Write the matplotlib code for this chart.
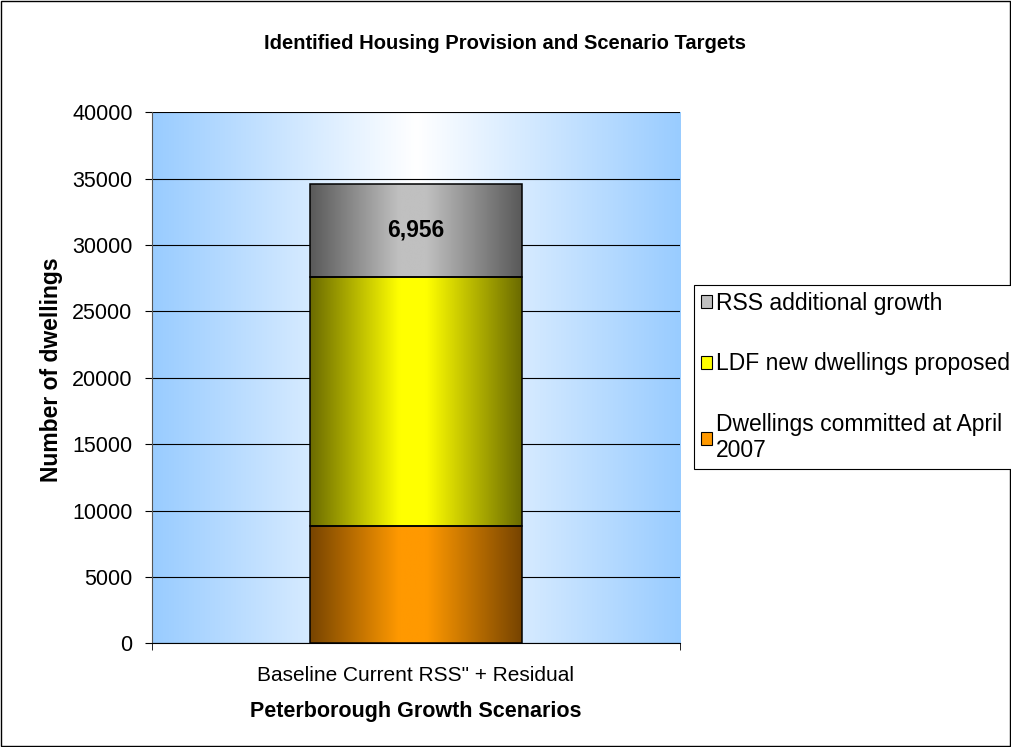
import numpy as np
import matplotlib.pyplot as plt
from matplotlib.colors import LinearSegmentedColormap
from matplotlib.patches import Rectangle

plt.rcParams['font.family'] = ['Liberation Sans', 'DejaVu Sans']

# stacked housing figures, bottom to top
categories = ['Baseline Current RSS" + Residual']
series_names = ['Dwellings committed at April\n2007', 'LDF new dwellings proposed', 'RSS additional growth']
committed = [8830]
ldf_new = [18790]
rss_growth = [6956]
y_ticks = [0, 5000, 10000, 15000, 20000, 25000, 30000, 35000, 40000]

# (edge shade, centre shade) for each segment
shades = [('#774400', '#FF9900'), ('#6B6B00', '#FFFF00'), ('#595959', '#C0C0C0')]

fig = plt.figure(figsize=(10.11, 7.47), dpi=100)
ax = fig.add_axes([0.1503, 0.1388, 0.5223, 0.7109])

x = np.arange(len(categories))

# blue -> white -> blue background across the plot area
bg = LinearSegmentedColormap.from_list('bg', ['#99CCFF', '#FFFFFF', '#99CCFF'])
ax.imshow(np.linspace(0, 1, 256).reshape(1, -1), cmap=bg, aspect='auto',
          extent=(-0.5, 0.5, 0, 40000), zorder=0, interpolation='bicubic')

ax.set_yticks(y_ticks)
ax.yaxis.grid(True, color='black', linewidth=0.8, zorder=1)
ax.set_axisbelow(True)

width = 0.40
bottoms = np.zeros(len(categories))
handles = []
for vals, name, (dark, light) in zip([committed, ldf_new, rss_growth], series_names, shades):
    bars = ax.bar(x, vals, width, bottom=bottoms, facecolor='none', edgecolor='black',
                  linewidth=1.1, zorder=3)
    cmap = LinearSegmentedColormap.from_list(
        'seg', [(0, dark), (0.42, light), (0.55, light), (1, dark)])
    for b in bars:
        x0, y0 = b.get_x(), b.get_y()
        im = ax.imshow(np.linspace(0, 1, 256).reshape(1, -1), cmap=cmap, aspect='auto',
                       extent=(x0, x0 + b.get_width(), y0, y0 + b.get_height()),
                       zorder=2, interpolation='bicubic')
        im.set_clip_path(b)
    handles.append(Rectangle((0, 0), 1, 1, facecolor=light, edgecolor='black', linewidth=0.8))
    bottoms = bottoms + np.array(vals)

# reset limits after the images
ax.set_xlim(-0.5, 0.5)
ax.set_ylim(0, 40000)

# value label on the top segment
for xi, base, v in zip(x, np.array(committed) + np.array(ldf_new), rss_growth):
    ax.text(xi, base + v / 2, f'{v:,}', ha='center', va='center',
            fontsize=16.5, fontweight='bold', zorder=4)

ax.set_xticks(x)
ax.set_xticklabels(categories, fontsize=15)
ax.tick_params(axis='x', length=0, pad=16)
ax.set_xticks([-0.5, 0.5], minor=True)
ax.tick_params(axis='x', which='minor', length=5, direction='out')
ax.tick_params(axis='y', labelsize=15.5, length=5, direction='out', pad=9)

for s in ['top', 'right']:
    ax.spines[s].set_visible(False)
ax.spines['left'].set_color('#555555')
ax.spines['bottom'].set_color('black')

ax.set_ylabel('Number of dwellings', fontsize=16.5, fontweight='bold')
ax.yaxis.set_label_coords(-0.168, 0.515)
ax.set_xlabel('Peterborough Growth Scenarios', fontsize=15.5, fontweight='bold', labelpad=12)
fig.text(0.5, 0.942, 'Identified Housing Provision and Scenario Targets',
         ha='center', va='center', fontsize=14.5, fontweight='bold')

leg = fig.legend(handles[::-1], series_names[::-1], loc='upper left',
                 bbox_to_anchor=(0.6865, 0.6185), fontsize=16.5, frameon=True,
                 fancybox=False, edgecolor='black', framealpha=1,
                 handlelength=0.5, handleheight=0.5, handletextpad=0.15,
                 labelspacing=1.63, borderpad=0.3, borderaxespad=0)
leg.get_frame().set_linewidth(0.8)

# border around the whole figure
fig.patches.append(Rectangle((0.001, 0.001), 0.998, 0.997, transform=fig.transFigure,
                             fill=False, edgecolor='black', linewidth=1))

fig.savefig('out.png', dpi=100)
